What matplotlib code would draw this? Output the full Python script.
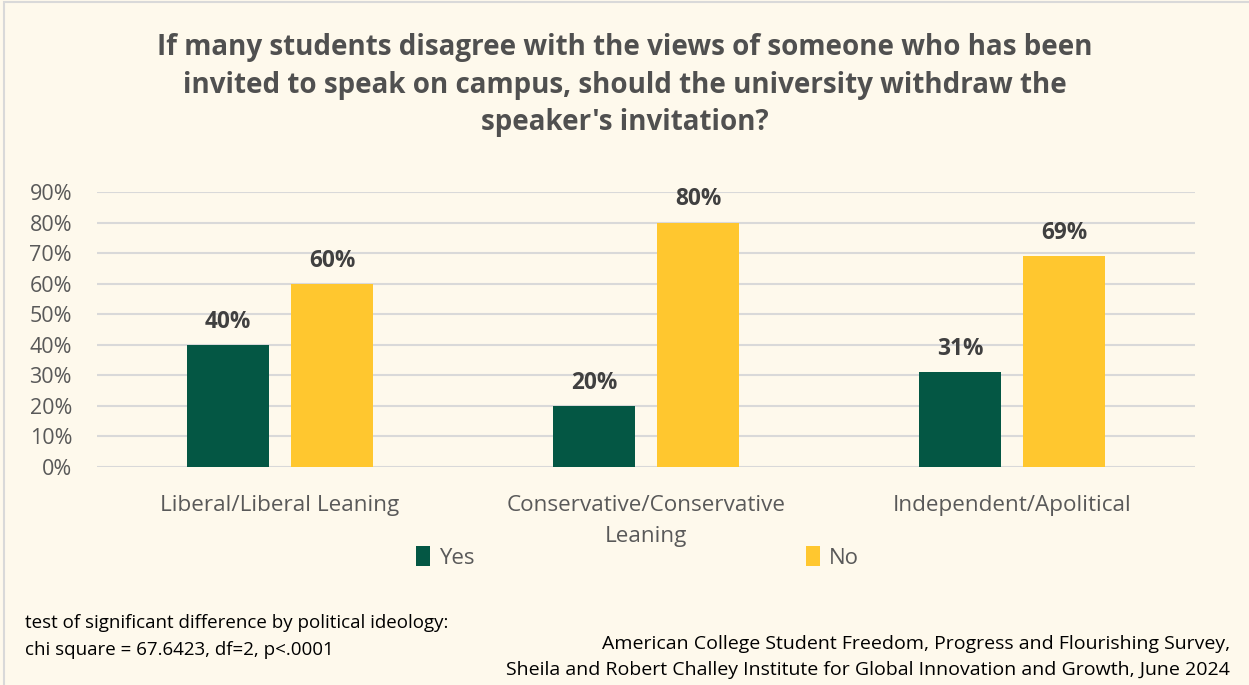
import numpy as np
import matplotlib.pyplot as plt
from matplotlib.patches import Rectangle

plt.rcParams['font.family'] = ['Open Sans', 'DejaVu Sans']

categories = ['Liberal/Liberal Leaning', 'Conservative/Conservative\nLeaning', 'Independent/Apolitical']
yes_values = [0.40, 0.20, 0.31]
no_values = [0.60, 0.80, 0.69]
y_ticks = [0.0, 0.1, 0.2, 0.3, 0.4, 0.5, 0.6, 0.7, 0.8, 0.9]

bg = '#FEF9EC'
green = '#045744'
yellow = '#FFC72F'
text_gray = '#595959'

fig = plt.figure(figsize=(12.49, 6.85), dpi=100, facecolor=bg)
fig.patches.append(Rectangle((0.003, -0.01), 1.2, 1.007, transform=fig.transFigure,
                             fill=False, edgecolor='#D9D9D9', linewidth=1.5))

ax = fig.add_axes([0.0777, 0.3182, 0.879, 0.4015])
ax.set_facecolor(bg)

x = np.arange(len(categories))
w = 0.224
off = 0.142
bars_yes = ax.bar(x - off, yes_values, w, color=green, label='Yes', zorder=3)
bars_no = ax.bar(x + off, no_values, w, color=yellow, label='No', zorder=3)

for bars in (bars_yes, bars_no):
    for b in bars:
        ax.annotate(f'{b.get_height():.0%}', (b.get_x() + b.get_width() / 2, b.get_height()),
                    xytext=(0, 8), textcoords='offset points', ha='center', va='bottom',
                    fontsize=16.3, fontweight='bold', color='#404040')

ax.set_xlim(-0.5, 2.5)
ax.set_ylim(0, 0.9)
ax.set_yticks(y_ticks)
ax.set_yticklabels([f'{t:.0%}' for t in y_ticks])
ax.set_xticks(x)
ax.set_xticklabels(categories, linespacing=1.62)
ax.tick_params(axis='y', length=0, pad=18, labelsize=15.5, labelcolor=text_gray)
ax.tick_params(axis='x', length=0, pad=20, labelsize=16.2, labelcolor=text_gray)
ax.grid(axis='y', color='#D9D9D9', linewidth=1.5, zorder=0)
for s in ax.spines.values():
    s.set_visible(False)

ax.legend(loc='upper center', bbox_to_anchor=(0.492, -0.215), ncol=2, frameon=False,
          fontsize=16, labelcolor=text_gray, handlelength=0.65, handleheight=1.0,
          handletextpad=0.4, columnspacing=14.9)

fig.text(0.5, 0.952, "If many students disagree with the views of someone who has been\n"
         "invited to speak on campus, should the university withdraw the\n"
         "speaker's invitation?", ha='center', va='top', fontsize=20,
         fontweight='bold', color='#505050', linespacing=1.4)

fig.text(0.02, 0.071, 'test of significant difference by political ideology:\n'
         'chi square = 67.6423, df=2, p<.0001', ha='left', va='center',
         fontsize=13.5, color='#000000', linespacing=1.62)
fig.text(0.985, 0.041, 'American College Student Freedom, Progress and Flourishing Survey,\n'
         'Sheila and Robert Challey Institute for Global Innovation and Growth, June 2024',
         ha='right', va='center', fontsize=14, color='#000000', linespacing=1.55)

fig.savefig('out.png', dpi=100, facecolor=bg)
